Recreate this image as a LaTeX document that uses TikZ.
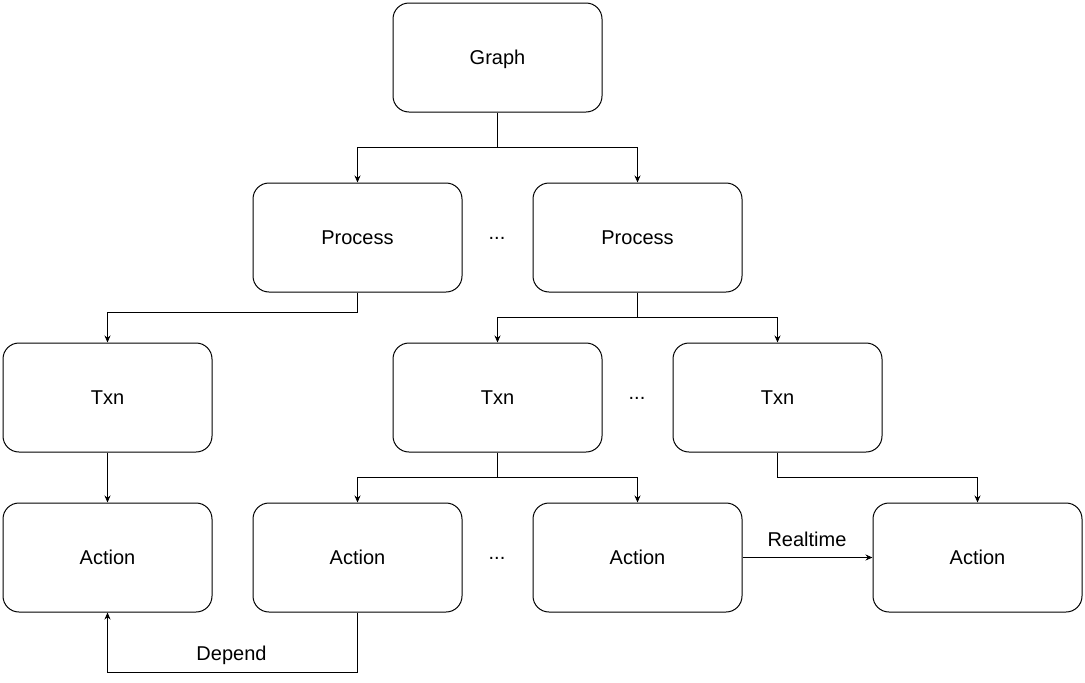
\documentclass[tikz,border=0pt]{standalone}
\usepackage{fontspec}
\setmainfont{Liberation Sans}
\usetikzlibrary{arrows.meta}
\begin{document}
\begin{tikzpicture}[x=1pt,y=-1pt,
  box/.style={draw=black,line width=1pt,rounded corners=16pt,minimum width=209pt,minimum height=109pt,inner sep=0pt,text height=14.4pt,text depth=0pt,font=\fontsize{20}{24}\selectfont},
  lbl/.style={font=\fontsize{20}{24}\selectfont,inner sep=0pt,text height=14.4pt,text depth=0pt},
  dots/.style={font=\fontsize{20}{24}\selectfont,inner sep=1pt},
  conn/.style={line width=1pt,-{Stealth[length=7pt,width=6pt]}},
  plain/.style={line width=1pt}]
\useasboundingbox (0,0) rectangle (1085,683);
\fill[white] (0,0) rectangle (1085,683);
\node[box] (graph) at (497.5,57.5) {Graph};
\node[box] (p1) at (357.5,237.5) {Process};
\node[box] (p2) at (637.5,237.5) {Process};
\node[dots] (d1) at (497,238.5) {...};
\node[box] (t1) at (107.5,397.5) {Txn};
\node[box] (t2) at (497.5,397.5) {Txn};
\node[box] (t3) at (777.5,397.5) {Txn};
\node[dots] (d2) at (637,398.5) {...};
\node[box] (a1) at (107.5,557.5) {Action};
\node[box] (a2) at (357.5,557.5) {Action};
\node[box] (a3) at (637.5,557.5) {Action};
\node[box] (a4) at (977.5,557.5) {Action};
\node[dots] (d3) at (497,558.5) {...};
% Graph -> Processes
\coordinate (g1) at (497.5,147.5);
\draw[plain] (graph.south) -- (g1);
\draw[conn] (g1) -| (p1.north);
\draw[conn] (g1) -| (p2.north);
% Process1 -> Txn1
\draw[conn] (p1.south) |- (232,312.5) -| (t1.north);
% Process2 -> Txn2, Txn3
\coordinate (p2b) at (637.5,317.5);
\draw[plain] (p2.south) -- (p2b);
\draw[conn] (p2b) -| (t2.north);
\draw[conn] (p2b) -| (t3.north);
% Txn1 -> Action1
\draw[conn] (t1.south) -- (a1.north);
% Txn2 -> Action2, Action3
\coordinate (t2b) at (497.5,477.5);
\draw[plain] (t2.south) -- (t2b);
\draw[conn] (t2b) -| (a2.north);
\draw[conn] (t2b) -| (a3.north);
% Txn3 -> Action4
\draw[conn] (t3.south) |- (877,477.5) -| (a4.north);
% Realtime
\draw[conn] (a3.east) -- (a4.west);
\node[lbl] (rtlbl) at (807,539) {Realtime};
% Depend
\coordinate (dep) at (232,672.5);
\draw[conn] (a2.south) |- (dep) -| (a1.south);
\node[lbl] (deplbl) at (231.5,653) {Depend};
\end{tikzpicture}
\end{document}
